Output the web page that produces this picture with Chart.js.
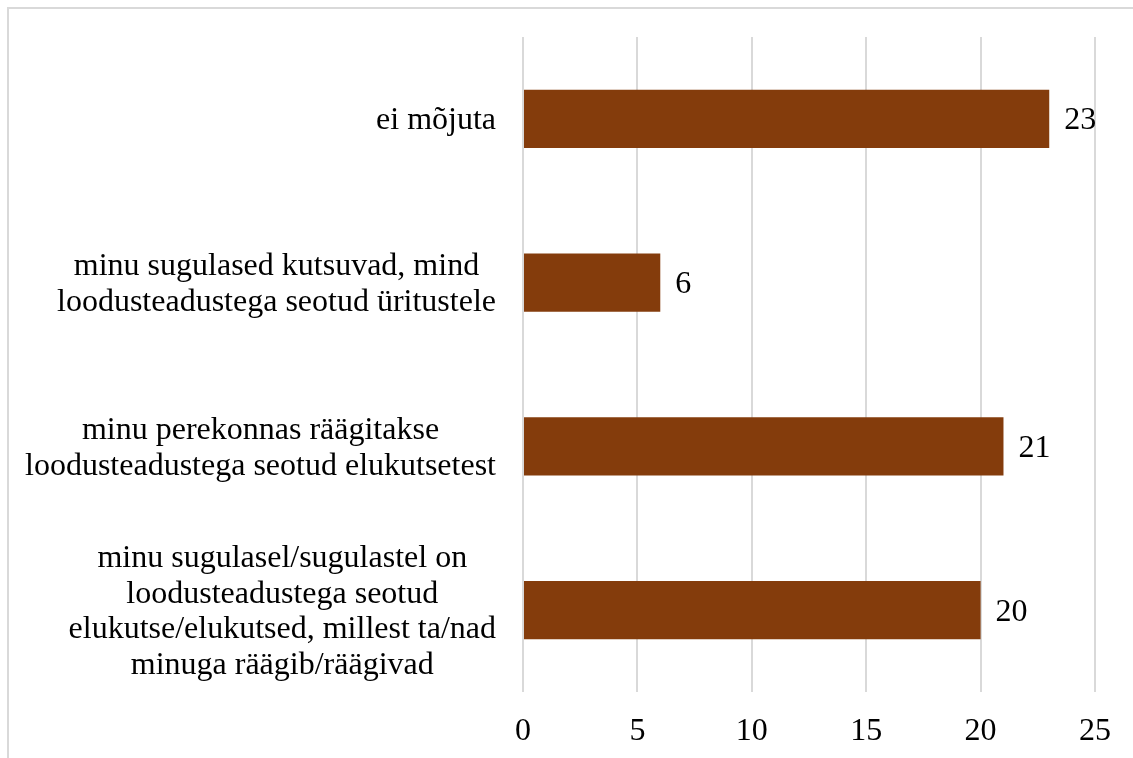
<!DOCTYPE html>
<html>
<head>
<meta charset="utf-8">
<script src="https://cdn.jsdelivr.net/npm/chart.js@4.4.1/dist/chart.umd.min.js"></script>
<style>
    body { margin: 0; background: #fff; }
    #wrap { position: relative; width: 1133px; height: 758px; overflow: hidden; }
    #frame { position: absolute; left: 7px; top: 7px; width: 1200px; height: 800px;
             border-top: 2px solid #d9d9d9; border-left: 2px solid #d9d9d9; }
    canvas { position: absolute; left: 0; top: 0; }
</style>
</head>
<body>
<div id="wrap">
    <div id="frame"></div>
    <canvas id="barChart" width="1133" height="758"></canvas>
</div>
<script>
const categories = [
    ['ei mõjuta'],
    ['minu sugulased kutsuvad, mind', 'loodusteadustega seotud üritustele'],
    ['minu perekonnas räägitakse', 'loodusteadustega seotud elukutsetest'],
    ['minu sugulasel/sugulastel on', 'loodusteadustega seotud', 'elukutse/elukutsed, millest ta/nad', 'minuga räägib/räägivad']
];
const counts = [23, 6, 21, 20];
const xTicks = [0, 5, 10, 15, 20, 25];

const FONT_FAMILY = '"Liberation Serif", "Times New Roman", serif';
const FONT = '32px ' + FONT_FAMILY;

// category labels: each block right-aligned, lines centred inside the block
const categoryLabels = {
    id: 'categoryLabels',
    afterDraw(chart) {
        const ctx = chart.ctx;
        const yScale = chart.scales.y;
        const right = 496;
        const lineH = 35.5;
        ctx.save();
        ctx.font = FONT;
        ctx.fillStyle = '#000';
        ctx.textAlign = 'center';
        ctx.textBaseline = 'middle';
        categories.forEach((lines, i) => {
            const yc = yScale.getPixelForTick(i) + 2;
            const w = Math.max(...lines.map(l => ctx.measureText(l).width));
            const xc = right - w / 2;
            const y0 = yc - (lines.length - 1) * lineH / 2;
            lines.forEach((l, j) => ctx.fillText(l, xc, y0 + j * lineH));
        });
        ctx.restore();
    }
};

const valueLabels = {
    id: 'valueLabels',
    afterDatasetsDraw(chart) {
        const ctx = chart.ctx;
        const meta = chart.getDatasetMeta(0);
        ctx.save();
        ctx.font = FONT;
        ctx.fillStyle = '#000';
        ctx.textAlign = 'left';
        ctx.textBaseline = 'middle';
        meta.data.forEach((bar, i) => {
            ctx.fillText(String(counts[i]), bar.x + 15, bar.y + 2);
        });
        ctx.restore();
    }
};

new Chart(document.getElementById('barChart').getContext('2d'), {
    type: 'bar',
    data: {
        labels: categories.map(c => c.join(' ')),
        datasets: [{
            data: counts,
            backgroundColor: '#843c0c',
            borderWidth: 0,
            categoryPercentage: 1,
            barPercentage: 0.355
        }]
    },
    options: {
        indexAxis: 'y',
        responsive: false,
        animation: false,
        layout: { padding: { top: 37, right: 38, left: 0, bottom: 0 } },
        plugins: {
            legend: { display: false },
            tooltip: { enabled: false }
        },
        scales: {
            x: {
                min: xTicks[0],
                max: xTicks[xTicks.length - 1],
                afterFit(scale) { scale.height = 66; },
                afterBuildTicks(scale) { scale.ticks = xTicks.map(v => ({ value: v })); },
                grid: { color: '#d9d9d9', lineWidth: 2, drawTicks: false },
                border: { display: false },
                ticks: {
                    padding: 20,
                    color: '#000',
                    font: { family: FONT_FAMILY, size: 32 }
                }
            },
            y: {
                afterFit(scale) { scale.width = 523; },
                grid: { display: false },
                border: { display: false },
                ticks: { display: false }
            }
        }
    },
    plugins: [categoryLabels, valueLabels]
});
</script>
</body>
</html>
